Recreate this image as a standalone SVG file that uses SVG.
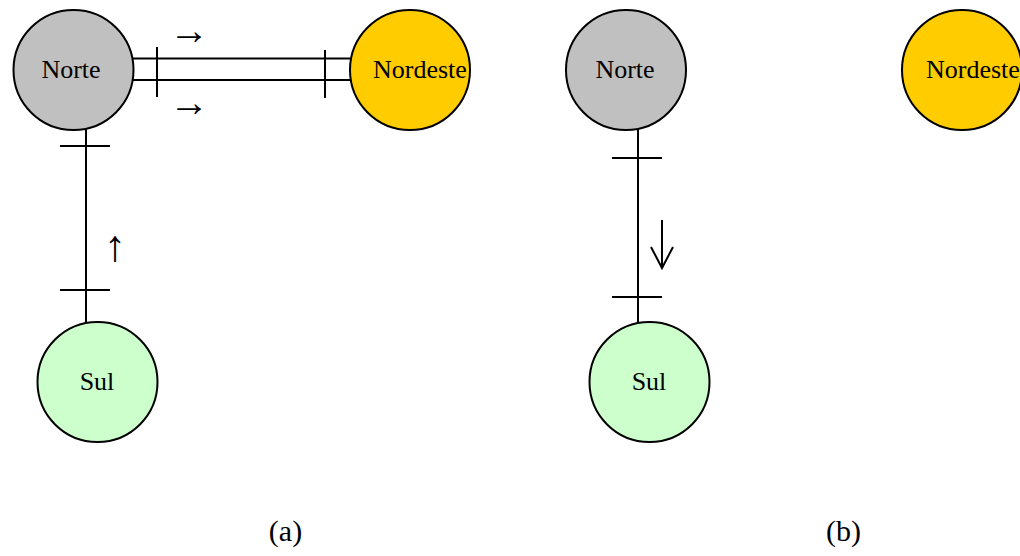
<svg xmlns="http://www.w3.org/2000/svg" width="1020" height="556" viewBox="0 0 1020 556">
<style>
.node{stroke:#000;stroke-width:2}
.lbl{font-family:"Liberation Serif","Times New Roman",serif;font-size:26px;fill:#000}
.cap{font-family:"Liberation Serif","Times New Roman",serif;font-size:30px;fill:#000}
.edge{stroke:#000;stroke-width:2;fill:none}
.arr{font-family:"Liberation Serif","DejaVu Serif",serif;font-size:40px;fill:#000}
</style>
<rect width="1020" height="556" fill="#fff"/>
<g id="connectors">
<line class="edge" x1="133" y1="58.5" x2="350" y2="58.5"/>
<line class="edge" x1="133" y1="80" x2="350" y2="80"/>
<line class="edge" x1="157" y1="47" x2="157" y2="97"/>
<line class="edge" x1="325" y1="50" x2="325" y2="98"/>
<line class="edge" x1="86" y1="129" x2="86" y2="323"/>
<line class="edge" x1="60" y1="146" x2="110" y2="146"/>
<line class="edge" x1="60" y1="290" x2="110" y2="290"/>
<line class="edge" x1="638" y1="129" x2="638" y2="323"/>
<line class="edge" x1="612" y1="158" x2="662" y2="158"/>
<line class="edge" x1="612" y1="297" x2="662" y2="297"/>
<text class="arr" x="189" y="44" text-anchor="middle">→</text>
<text class="arr" x="189" y="116" text-anchor="middle">→</text>
<text class="arr" x="115" y="261" text-anchor="middle" style="font-size:44px">↑</text>
<path class="edge" d="M662 220 V268 M651 247 L662 268 L673 247" stroke-width="1.5"/>
</g>
<g id="norte-a">
<circle class="node" cx="73.5" cy="70" r="60" fill="#c0c0c0"/>
<text class="lbl" x="71" y="78" text-anchor="middle">Norte</text>
</g>
<g id="nordeste-a">
<circle class="node" cx="410" cy="70" r="60" fill="#ffcc00"/>
<text class="lbl" x="373" y="78">Nordeste</text>
</g>
<g id="sul-a">
<circle class="node" cx="97.5" cy="382" r="60" fill="#ccffcc"/>
<text class="lbl" x="97" y="390" text-anchor="middle">Sul</text>
</g>
<g id="norte-b">
<circle class="node" cx="626" cy="70" r="60" fill="#c0c0c0"/>
<text class="lbl" x="625" y="78" text-anchor="middle">Norte</text>
</g>
<g id="nordeste-b">
<circle class="node" cx="962" cy="70" r="60" fill="#ffcc00"/>
<text class="lbl" x="926" y="78">Nordeste</text>
</g>
<g id="sul-b">
<circle class="node" cx="649.5" cy="382" r="60" fill="#ccffcc"/>
<text class="lbl" x="649" y="390" text-anchor="middle">Sul</text>
</g>
<text class="cap" x="285.5" y="541" text-anchor="middle">(a)</text>
<text class="cap" x="843.5" y="541" text-anchor="middle">(b)</text>
</svg>
